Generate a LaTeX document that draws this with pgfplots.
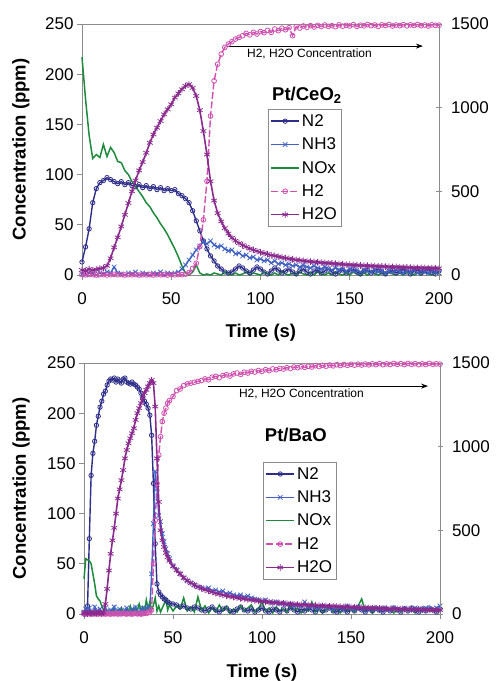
\documentclass[border=0pt]{standalone}
\usepackage{fontspec}
\setmainfont{Liberation Sans}
\usepackage{pgfplots}
\pgfplotsset{compat=1.18}
\usepackage{pgfplotstable}
\usetikzlibrary{arrows.meta}

\definecolor{cN}{HTML}{2E2E8A}
\definecolor{cNH}{HTML}{4262C4}
\definecolor{cNO}{HTML}{1E8A3C}
\definecolor{cH}{HTML}{D050B0}
\definecolor{cHO}{HTML}{8A2A8E}
\definecolor{axgray}{HTML}{8C8C8C}

\pgfplotstableread{
t N2 NH3 NOx H2 H2O
0 13 1 217 3 30
2 28 0 175 1 25
4 46 2 139 4 35
6 72 1 116 2 28
8 86 0 120 0 33
10 92 2 117 3 38
12 94 1 130 2 42
14 97 3 118 0 55
16 95 2 127 2 100
18 93 8 122 4 165
20 91 2 113 1 225
22 93 1 112 3 290
24 90 0 104 0 360
26 92 2 100 2 430
28 89 1 93 1 500
30 88 3 88 3 565
32 90 0 83 0 625
34 87 2 78 2 675
36 89 1 72 1 730
38 86 0 68 3 790
40 88 2 62 0 840
42 85 1 57 2 880
44 87 3 51 1 920
46 84 0 46 3 960
48 86 2 40 0 990
50 84 1 33 2 1020
52 85 2 26 1 1060
54 81 3 18 3 1085
56 79 6 9 2 1110
58 76 10 2 5 1130
60 72 15 0 15 1140
62 64 20 3 40 1118
64 54 25 10 70 1070
66 44 29 2 170 985
68 34 33 0 330 860
70 26 31 1 560 720
72 19 34 0 950 560
74 14 30 2 1160 445
76 9 28 1 1260 370
78 6 29 0 1320 320
80 3 26 3 1360 280
82 2 24 1 1380 248
84 3 25 0 1395 222
86 6 21 2 1410 205
88 9 22 0 1420 190
90 7 19 1 1430 178
92 4 20 3 1444 168
94 2 17 0 1435 158
96 5 18 2 1450 150
98 8 15 1 1440 143
100 6 16 0 1455 136
102 3 14 3 1448 130
104 1 15 1 1462 125
106 4 12 0 1450 118
108 7 14 2 1470 115
110 5 11 0 1460 110
112 2 12 4 1475 105
114 4 10 1 1466 101
116 6 11 0 1478 97
118 3 9 2 1430 94
120 1 10 0 1484 90
122 4 8 3 1476 88
124 6 10 1 1488 85
126 3 8 0 1480 82
128 1 7 2 1490 80
130 4 9 0 1482 78
132 5 7 3 1492 76
134 2 6 1 1485 74
136 4 8 0 1494 72
138 6 6 2 1486 71
140 3 5 0 1490 69
142 1 7 3 1484 67
144 4 5 1 1495 66
146 5 6 0 1487 64
148 2 4 2 1492 62
150 4 6 0 1488 61
152 6 4 3 1496 60
154 3 5 1 1486 58
156 1 3 0 1493 57
158 4 5 2 1489 56
160 5 4 0 1497 55
162 2 3 4 1490 54
164 4 5 1 1494 53
166 6 3 0 1486 52
168 3 4 2 1495 51
170 1 2 0 1491 50
172 4 4 3 1497 49
174 5 3 1 1488 48
176 2 5 0 1494 48
178 4 3 2 1490 47
180 6 2 0 1496 46
182 3 4 3 1489 45
184 1 3 1 1495 44
186 4 5 0 1491 44
188 5 2 2 1497 43
190 2 4 0 1490 42
192 4 3 3 1494 42
194 6 2 1 1488 41
196 3 4 0 1495 41
198 1 3 2 1492 40
200 4 2 1 1493 40
}\topdata

\pgfplotstableread{
t N2 NH3 NOx H2 H2O
0 0 2 35 2 5
1 2 5 55 0 8
2 8 1 54 3 3
3 75 6 53 1 10
4 138 2 50 0 6
5 160 0 40 4 2
6 172 7 30 1 9
7 188 3 18 2 4
8 197 1 15 0 12
9 206 5 13 3 7
10 212 2 8 1 3
11 219 0 4 2 10
12 222 6 2 0 60
13 228 3 0 3 150
14 232 1 3 1 260
15 234 4 1 0 360
16 233 2 5 2 440
17 235 7 2 1 515
18 231 1 0 3 600
19 234 3 4 0 690
20 232 5 1 2 745
21 230 2 6 1 800
22 234 0 2 4 860
23 235 4 0 2 930
24 231 6 5 0 980
25 230 2 3 3 1020
26 229 1 8 1 1050
27 231 5 2 0 1080
28 229 3 6 2 1110
29 228 7 1 4 1160
30 226 2 4 1 1200
31 224 0 10 3 1230
32 220 4 3 0 1260
33 215 6 7 2 1290
34 212 2 2 5 1320
35 209 5 14 3 1340
36 205 8 5 8 1360
37 198 5 12 12 1380
38 178 40 4 25 1398
39 130 90 9 300 1380
40 70 142 16 560 1240
41 30 125 3 780 930
42 22 98 8 950 670
43 19 92 2 1060 500
44 17 80 6 1150 440
45 15 72 10 1200 400
46 14 65 15 1230 365
47 12 60 4 1260 340
48 11 55 9 1275 318
50 10 48 3 1300 285
52 9 44 8 1335 262
54 7 40 5 1345 240
56 8 36 16 1365 217
58 6 33 3 1375 200
60 5 31 7 1380 186
62 7 29 2 1385 173
64 6 27 17 1390 162
66 4 26 4 1395 153
68 3 25 8 1405 145
70 5 26 1 1400 138
72 7 23 6 1415 131
74 4 24 2 1420 124
76 2 22 9 1412 119
78 5 23 3 1425 114
80 6 20 7 1430 109
82 3 21 1 1422 105
84 2 19 5 1435 101
86 5 18 2 1440 97
88 7 19 8 1432 94
90 4 17 3 1445 90
92 3 18 6 1440 87
94 5 16 9 1450 84
96 2 15 2 1446 81
98 4 14 5 1455 79
100 6 13 12 1450 76
102 3 14 3 1460 73
104 2 12 6 1455 71
106 5 11 1 1465 69
108 4 12 7 1460 67
110 2 10 3 1468 65
112 5 11 5 1464 63
114 3 9 2 1472 61
116 6 10 8 1467 59
118 4 8 4 1476 58
120 2 9 6 1472 56
122 5 8 1 1478 55
124 3 12 5 1474 54
126 6 7 3 1480 53
128 4 8 12 1476 52
130 2 7 2 1484 51
132 5 6 6 1479 50
134 3 8 1 1486 49
136 4 7 4 1481 48
138 6 6 7 1488 47
140 3 5 2 1483 46
142 2 7 5 1490 45
144 5 6 1 1485 44
146 4 5 6 1491 43
148 2 8 3 1486 42
150 5 6 5 1492 41
152 3 5 2 1487 40
154 6 7 8 1493 39
156 4 5 15 1488 38
158 2 6 3 1494 37
160 5 4 6 1489 36
162 3 6 1 1495 35
164 6 5 5 1490 34
166 4 4 2 1496 34
168 2 6 7 1490 33
170 5 5 3 1495 32
172 3 4 5 1491 31
174 6 6 1 1497 31
176 4 5 4 1492 30
178 2 4 2 1496 29
180 5 6 6 1491 29
182 3 5 3 1497 28
184 6 4 5 1492 28
186 4 6 1 1496 27
188 2 5 4 1490 27
190 5 4 2 1495 26
192 3 6 6 1491 26
194 6 5 3 1497 25
196 4 4 5 1492 25
198 2 6 2 1495 24
200 5 8 4 1493 24
}\botdata

\pgfplotsset{
  base/.style={scale only axis, height=251pt, xmin=0, xmax=200, clip=false,
    axis line style={axgray, line width=0.9pt},
    every tick/.style={axgray, line width=0.9pt}, major tick length=5pt,
    tick label style={font=\fontsize{17}{17}\selectfont, black},
    /pgf/number format/assume math mode=true,
    /pgf/number format/1000 sep={},
  },
  leftax/.style={base, ymin=0, ymax=250, ytick={0,50,...,250},
    xtick={0,50,...,200}, xtick pos=bottom, ytick pos=left, tick align=outside,
    xticklabel style={yshift=-9pt},
    ylabel={Concentration (ppm)}, xlabel={Time (s)},
    label style={font=\fontsize{18.5}{18.5}\selectfont\bfseries},
  },
  rightax/.style={base, ymin=0, ymax=1500, ytick={0,500,1000,1500},
    axis x line=none, axis y line*=right, tick align=center,
    yticklabel style={xshift=6pt},
    legend style={draw=axgray, line width=0.8pt, fill=white, font=\fontsize{17}{17}\selectfont,
      inner xsep=2pt, inner ysep=3pt, row sep=6pt, cells={anchor=west}},
    legend image code/.code={\draw[mark repeat=2,mark phase=2,##1] plot coordinates {(0pt,0pt) (14pt,0pt) (28pt,0pt)};},
  },
  sN/.style={color=cN, line width=1.4pt, mark=o, mark size=2.2pt, mark options={solid, fill=white, line width=0.8pt}},
  sNH/.style={color=cNH, line width=1.4pt, mark=x, mark size=3.2pt, mark options={solid, line width=0.8pt}},
  sNO/.style={color=cNO, line width=1.5pt, no markers},
  sH/.style={color=cH, line width=1.4pt, dash pattern=on 7pt off 2.5pt, mark=o, mark size=2.4pt, mark options={solid, fill=white, line width=0.8pt}},
  sHO/.style={color=cHO, line width=1.6pt, mark=asterisk, mark size=3.3pt, mark options={solid, line width=0.8pt}},
}

\begin{document}
\begin{tikzpicture}[x=1pt,y=1pt]
\path[use as bounding box] (0,0) rectangle (497,681);

% ---------- top panel ----------
\begin{axis}[leftax, width=357pt, at={(82pt,406pt)}, anchor=south west,
  ylabel style={at={(axis description cs:-0.171,0.5)}, anchor=center},
  xlabel style={at={(axis description cs:0.501,-0.23)}, anchor=center}]
\addplot[sN] table[x=t,y=N2] {\topdata};
\addplot[sNH] table[x=t,y=NH3] {\topdata};
\addplot[sNO] table[x=t,y=NOx] {\topdata};
\end{axis}
\begin{axis}[rightax, width=357pt, at={(82pt,406pt)}, anchor=south west,
  legend style={at={(0.521,0.661)}, anchor=north west}]
\addlegendimage{sN}\addlegendentry{N2}
\addlegendimage{sNH}\addlegendentry{NH3}
\addlegendimage{sNO}\addlegendentry{NOx}
\addplot[sH] table[x=t,y=H2] {\topdata};\addlegendentry{H2}
\addplot[sHO] table[x=t,y=H2O] {\topdata};\addlegendentry{H2O}
\draw[-{Stealth[length=7pt,width=5pt]}, line width=0.8pt] (axis cs:81,1368) -- (axis cs:191,1368);
\node[anchor=west, font=\fontsize{12}{12}\selectfont, inner sep=0pt] at (axis cs:92.4,1321) {H2, H2O Concentration};
\node[font=\fontsize{18.5}{18.5}\selectfont\bfseries] at (axis cs:126,1076) {Pt/CeO\textsubscript{2}};
\end{axis}

% ---------- bottom panel ----------
\begin{axis}[leftax, width=356pt, at={(84pt,67pt)}, anchor=south west,
  ylabel style={at={(axis description cs:-0.177,0.5)}, anchor=center},
  xlabel style={at={(axis description cs:0.5,-0.233)}, anchor=center}]
\addplot[sN] table[x=t,y=N2] {\botdata};
\addplot[sNH] table[x=t,y=NH3] {\botdata};
\addplot[sNO] table[x=t,y=NOx] {\botdata};
\end{axis}
\begin{axis}[rightax, width=356pt, at={(84pt,67pt)}, anchor=south west,
  legend style={at={(0.503,0.606)}, anchor=north west}]
\addlegendimage{sN}\addlegendentry{N2}
\addlegendimage{sNH}\addlegendentry{NH3}
\addlegendimage{sNO}\addlegendentry{NOx}
\addplot[sH] table[x=t,y=H2] {\botdata};\addlegendentry{H2}
\addplot[sHO] table[x=t,y=H2O] {\botdata};\addlegendentry{H2O}
\draw[-{Stealth[length=7pt,width=5pt]}, line width=0.8pt] (axis cs:69.7,1362) -- (axis cs:193.3,1362);
\node[anchor=west, font=\fontsize{12}{12}\selectfont, inner sep=0pt] at (axis cs:87,1315) {H2, H2O Concentration};
\node[font=\fontsize{18.5}{18.5}\selectfont\bfseries] at (axis cs:119,1070) {Pt/BaO};
\end{axis}
\end{tikzpicture}
\end{document}
